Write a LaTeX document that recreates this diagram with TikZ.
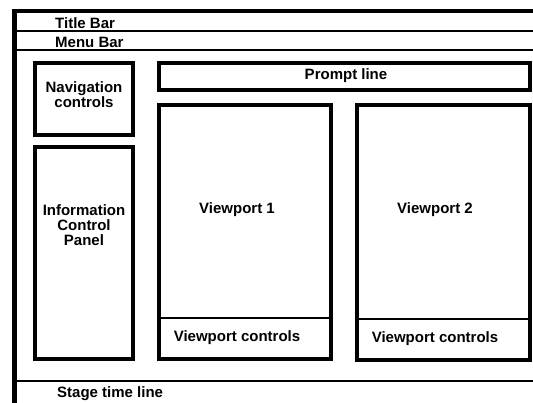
\documentclass[tikz,border=0pt]{standalone}
\usepackage{fontspec}
\setmainfont{Liberation Sans}
\begin{document}
\begin{tikzpicture}[x=1pt,y=-1pt,
  panel/.style={draw=black,line width=4pt,inner sep=0pt,fill=none},
  thin/.style={draw=black,line width=2pt},
  frame/.style={draw=black,line width=4.5pt},
  lbl/.style={font=\fontsize{15}{14.8}\selectfont\bfseries,align=center,inner sep=0pt}]
\useasboundingbox[fill=white] (0,0) rectangle (533,403);
% outer frame
\coordinate (fb) at (14.5,410);
\coordinate (ftl) at (14.5,11);
\coordinate (fr) at (540,11);
\draw[frame] (fb) -- (ftl) -- (fr);
% horizontal bars
\coordinate (t1) at (14,31.5); \coordinate (t2) at (540,31.5);
\coordinate (m1) at (14,50.5); \coordinate (m2) at (540,50.5);
\coordinate (s1) at (14,381.5); \coordinate (s2) at (540,381.5);
\draw[thin] (t1) -- (t2);
\draw[thin] (m1) -- (m2);
\draw[thin] (s1) -- (s2);
\node[lbl,anchor=west] (title) at (55,23) {Title Bar};
\node[lbl,anchor=west] (menu) at (55,42) {Menu Bar};
\node[lbl,anchor=west] (stage) at (57,394) {Stage time line};
% panels
\node[panel,minimum width=98pt,minimum height=72pt] (nav) at (84,99) {};
\node[panel,minimum width=98pt,minimum height=212pt] (info) at (84,253) {};
\node[panel,minimum width=371pt,minimum height=27pt] (prompt) at (344.5,76.5) {};
\node[panel,minimum width=172pt,minimum height=254pt] (vp1) at (245,232) {};
\node[panel,minimum width=173pt,minimum height=255pt] (vp2) at (443.5,232.5) {};
% viewport control separators
\coordinate (c1a) at (159,318); \coordinate (c1b) at (331,318);
\coordinate (c2a) at (357,319); \coordinate (c2b) at (530,319);
\draw[thin] (c1a) -- (c1b);
\draw[thin] (c2a) -- (c2b);
% labels
\node[lbl] (navt) at (84,95) {Navigation\\controls};
\node[lbl] (infot) at (84,225) {Information\\Control\\Panel};
\node[lbl] (promptt) at (346,76) {Prompt line};
\node[lbl] (vp1t) at (237,210) {Viewport 1};
\node[lbl] (vp2t) at (435,210) {Viewport 2};
\node[lbl] (vc1) at (237,338) {Viewport controls};
\node[lbl] (vc2) at (435,339) {Viewport controls};
\end{tikzpicture}
\end{document}
